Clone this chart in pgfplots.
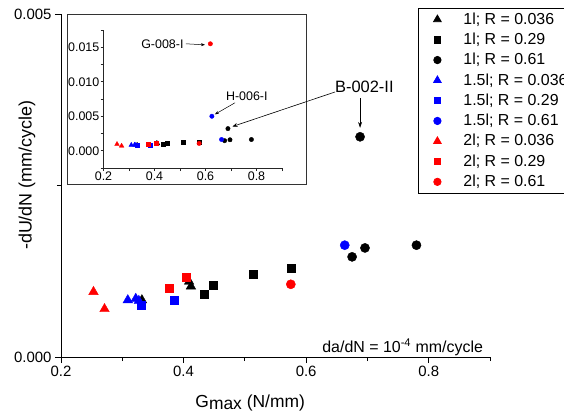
\documentclass[border=0pt]{standalone}
\usepackage{pgfplots}
\pgfplotsset{compat=1.18}
\usepackage{pgfplotstable}
\usepackage{fontspec}
\setmainfont{Liberation Sans}
\usetikzlibrary{arrows.meta}
\definecolor{cblue}{RGB}{0,0,255}
\definecolor{cred}{RGB}{255,0,0}

% 1l series (black)
\pgfplotstableread{
x y
0.332 0.00083
0.409 0.00110
0.412 0.00103
}\tTa
\pgfplotstableread{
x y
0.433 0.00092
0.448 0.00104
0.514 0.00121
0.575 0.00129
}\tSa
\pgfplotstableread{
x y
0.675 0.00146
0.688 0.00321
0.696 0.00159
0.780 0.00163
}\tCa
% 1.5l series (blue)
\pgfplotstableread{
x y
0.309 0.00083
0.322 0.00085
0.327 0.00082
}\tTb
\pgfplotstableread{
x y
0.331 0.00075
0.384 0.00083
}\tSb
\pgfplotstableread{
x y
0.663 0.00163
}\tCb
\pgfplotstableread{
x y
0.625 0.0050
}\tCbx
% 2l series (red)
\pgfplotstableread{
x y
0.253 0.00095
0.271 0.00070
}\tTc
\pgfplotstableread{
x y
0.376 0.00100
0.405 0.00116
}\tSc
\pgfplotstableread{
x y
0.575 0.00106
}\tCc
\pgfplotstableread{
x y
0.619 0.0155
}\tCcx

\pgfplotsset{
  mt/.style={only marks, mark=triangle*, mark size=5.5bp},
  ms/.style={only marks, mark=square*, mark size=4bp},
  mc/.style={only marks, mark=*, mark size=4.6bp},
  it/.style={only marks, mark=triangle*, mark size=2.7bp},
  is/.style={only marks, mark=square*, mark size=2bp},
  ic/.style={only marks, mark=*, mark size=2.2bp},
}

\begin{document}
\begin{tikzpicture}
\useasboundingbox (0,0) rectangle (564bp,-417bp);
\begin{axis}[
  at={(61bp,-357bp)}, anchor=south west,
  scale only axis, width=429bp, height=343bp,
  xmin=0.2, xmax=0.9, ymin=0, ymax=0.005,
  axis x line=bottom, axis y line=left,
  axis line style={-, line width=0.9bp, black},
  tick align=outside, major tick length=6bp, minor tick length=4bp,
  every tick/.style={black, line width=0.9bp},
  xtick={0.2,0.4,0.6,0.8}, minor xtick={0.3,0.5,0.7,0.9},
  ytick={0,0.005}, minor ytick={0.0025},
  scaled y ticks=false, scaled x ticks=false,
  xticklabel style={/pgf/number format/.cd, fixed, fixed zerofill, precision=1},
  yticklabel style={/pgf/number format/.cd, fixed, fixed zerofill, precision=3},
  /pgf/number format/assume math mode=true,
  tick label style={font=\fontsize{15}{18}\selectfont},
  xlabel={G\raisebox{-0.3ex}{max} (N/mm)},
  ylabel={-dU/dN (mm/cycle)},
  xlabel style={at={(axis description cs:0.441,0)}, anchor=base, yshift=-50bp, font=\fontsize{17.5}{20}\selectfont},
  ylabel style={at={(axis description cs:-0.079,0.53)}, anchor=center, font=\fontsize{18}{20}\selectfont},
  legend style={at={(0.8322,1.0175)}, anchor=north west, draw=black, line width=0.8bp,
    font=\fontsize{16}{18}\selectfont, inner xsep=9bp, inner ysep=2bp,
    nodes={inner sep=2bp, text height=11.7bp, text depth=2.4bp}, row sep=2.2bp},
  legend cell align=left,
  legend image code/.code={\path[draw=none,fill=none] (0bp,-1bp) rectangle (34bp,1bp);\draw[only marks, mark repeat=2,mark phase=2,mark options={scale=0.8}] plot coordinates {(0bp,0bp)(10bp,0bp)(34bp,0bp)};},
]
\addplot[mt, black] table {\tTa}; \addlegendentry{1l; R = 0.036}
\addplot[ms, black] table {\tSa}; \addlegendentry{1l; R = 0.29}
\addplot[mc, black] table {\tCa}; \addlegendentry{1l; R = 0.61}
\addplot[mt, cblue] table {\tTb}; \addlegendentry{1.5l; R = 0.036}
\addplot[ms, cblue] table {\tSb}; \addlegendentry{1.5l; R = 0.29}
\addplot[mc, cblue] table {\tCb}; \addlegendentry{1.5l; R = 0.61}
\addplot[mt, cred] table {\tTc}; \addlegendentry{2l; R = 0.036}
\addplot[ms, cred] table {\tSc}; \addlegendentry{2l; R = 0.29}
\addplot[mc, cred] table {\tCc}; \addlegendentry{2l; R = 0.61}
\node[font=\fontsize{16.5}{18}\selectfont] at (axis cs:0.695,0.00394) {B-002-II};
\draw[-{Stealth[length=6bp,width=4bp]}, line width=0.6bp] (axis cs:0.688,0.003775) -- (axis cs:0.688,0.00334);
\node[anchor=base east, font=\fontsize{16}{18}\selectfont, inner sep=0pt] at (rel axis cs:0.984,0.012) {da/dN = 10\textsuperscript{-4} mm/cycle};
\end{axis}

\draw[line width=0.8bp, black!80] (67bp,-14bp) rectangle (306bp,-184bp);

\begin{axis}[
  at={(103.5bp,-168bp)}, anchor=south west,
  scale only axis, width=178.5bp, height=138bp,
  xmin=0.2, xmax=0.9, ymin=-0.0025, ymax=0.0175,
  axis x line=bottom, axis y line=left,
  axis line style={-, line width=0.6bp, black!85},
  tick align=outside, major tick length=3bp, minor tick length=3bp,
  every tick/.style={black!85, line width=0.6bp},
  xtick={0.2,0.4,0.6,0.8}, minor xtick={0.3,0.5,0.7,0.9},
  ytick={0,0.005,0.01,0.015}, minor ytick={-0.0025,0.0025,0.0075,0.0125,0.0175},
  scaled y ticks=false, scaled x ticks=false,
  xticklabel style={/pgf/number format/.cd, fixed, fixed zerofill, precision=1},
  yticklabel style={/pgf/number format/.cd, fixed, fixed zerofill, precision=3},
  /pgf/number format/assume math mode=true,
  tick label style={font=\fontsize{12.5}{14}\selectfont, inner sep=1bp},
]
\addplot[it, black] table {\tTa};
\addplot[is, black] table {\tSa};
\addplot[ic, black] table {\tCa};
\addplot[it, cblue] table {\tTb};
\addplot[is, cblue] table {\tSb};
\addplot[ic, cblue] table {\tCb};
\addplot[ic, cblue] table {\tCbx};
\addplot[it, cred] table {\tTc};
\addplot[is, cred] table {\tSc};
\addplot[ic, cred] table {\tCc};
\addplot[ic, cred] table {\tCcx};
\node[font=\fontsize{12.5}{14}\selectfont] at (axis cs:0.431,0.0155) {G-008-I};
\draw[-{Stealth[length=4bp,width=3bp]}, line width=0.5bp] (axis cs:0.5235,0.0155) -- (axis cs:0.598,0.01535);
\node[font=\fontsize{12.5}{14}\selectfont] at (axis cs:0.762,0.00793) {H-006-I};
\draw[-{Stealth[length=4bp,width=3bp]}, line width=0.5bp] (axis cs:0.716,0.00696) -- (axis cs:0.637,0.00528);
\end{axis}

\draw[-{Stealth[length=5bp,width=4bp]}, line width=0.6bp] (335bp,-92bp) -- (232.5bp,-126.5bp);
\end{tikzpicture}
\end{document}
